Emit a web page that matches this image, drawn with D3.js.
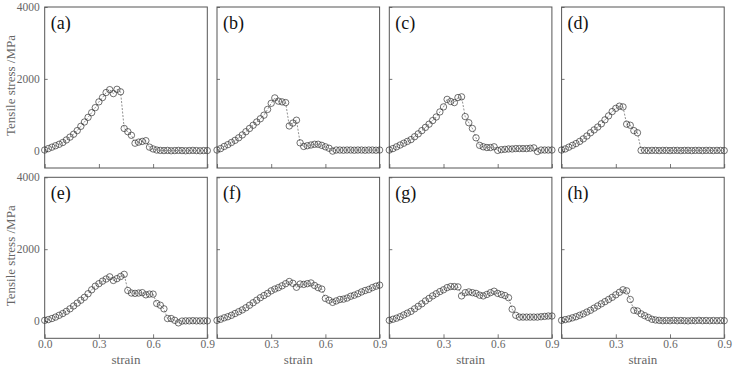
<!DOCTYPE html>
<html>
<head>
<meta charset="utf-8">
<script src="https://cdn.jsdelivr.net/npm/d3@7"></script>
<style>
  body { margin: 0; background: #fff; }
  svg { display: block; }
</style>
</head>
<body>
<svg id="chart"></svg>
<script>
// strain grid (every 0.02)
let strain = [0.00, 0.02, 0.04, 0.06, 0.08, 0.10, 0.12, 0.14, 0.16, 0.18,
  0.20, 0.22, 0.24, 0.26, 0.28, 0.30, 0.32, 0.34, 0.36, 0.38,
  0.40, 0.42, 0.44, 0.46, 0.48, 0.50, 0.52, 0.54, 0.56, 0.58,
  0.60, 0.62, 0.64, 0.66, 0.68, 0.70, 0.72, 0.74, 0.76, 0.78,
  0.80, 0.82, 0.84, 0.86, 0.88, 0.90];

// tensile stress (MPa)
let stressA = [20, 60, 100, 140, 180, 230, 300, 380, 460, 560, 680, 800, 930, 1060, 1200, 1360, 1480, 1620, 1700, 1590,
  1710, 1640, 620, 530, 430, 210, 240, 260, 280, 100, 50, 20, 10, 5, 10, 0, 5, 10, 5, 0, 5, 10, 5, 0, 5, 5];
let stressB = [20, 60, 120, 170, 230, 290, 360, 440, 530, 620, 710, 800, 890, 990, 1150, 1320, 1470, 1380, 1360, 1340,
  690, 770, 850, 220, 120, 140, 160, 180, 180, 150, 110, 70, -10, 20, 20, 15, 20, 20, 15, 20, 20, 15, 20, 20, 15, 20];
let stressC = [20, 60, 110, 160, 210, 260, 310, 390, 470, 560, 650, 740, 840, 940, 1080, 1220, 1430, 1370, 1340, 1480,
  1500, 950, 780, 620, 360, 150, 110, 90, 90, 110, 10, 30, 40, 50, 50, 60, 60, 60, 60, 70, 80, -20, 20, 20, 20, 20];
let stressD = [20, 50, 100, 150, 200, 260, 330, 410, 500, 580, 660, 750, 860, 970, 1090, 1180, 1240, 1220, 740, 710,
  560, 500, 10, 10, 5, 10, 10, 5, 10, 10, 5, 10, 10, 5, 10, 10, 5, 10, 10, 5, 10, 10, 5, 10, 10, 5];
let stressE = [20, 40, 70, 110, 160, 210, 270, 340, 420, 500, 580, 660, 760, 870, 970, 1040, 1110, 1170, 1230, 1130,
  1180, 1240, 1300, 850, 780, 770, 780, 790, 730, 750, 750, 490, 440, 340, 70, 70, 20, -50, 0, 5, 5, 10, 5, 5, 5, 5];
let stressF = [20, 50, 90, 120, 160, 210, 260, 310, 370, 440, 510, 580, 650, 710, 770, 840, 890, 930, 980, 1040,
  1100, 1050, 940, 1030, 1020, 1040, 1060, 990, 930, 890, 630, 580, 520, 560, 600, 610, 640, 690, 720, 760,
  810, 850, 880, 930, 970, 1000];
let stressG = [20, 50, 80, 120, 170, 220, 270, 340, 410, 480, 560, 630, 700, 760, 820, 870, 930, 960, 960, 950,
  700, 790, 810, 790, 770, 720, 700, 740, 790, 830, 770, 740, 710, 650, 330, 160, 110, 110, 110, 110,
  110, 110, 120, 130, 140, 140];
let stressH = [20, 40, 60, 90, 120, 160, 200, 250, 300, 360, 420, 480, 540, 600, 660, 730, 800, 870, 840, 600,
  300, 280, 200, 150, 100, 50, 30, 20, 10, 15, 10, 20, 10, 15, 10, 5, 15, 10, 20, 10, 15, 10, 15, 10, 15, 10];

let panelLabels = ['(a)', '(b)', '(c)', '(d)', '(e)', '(f)', '(g)', '(h)'];
let panelSeries = [stressA, stressB, stressC, stressD, stressE, stressF, stressG, stressH];
let xTicks = [0, 0.3, 0.6, 0.9];
let yTicks = [0, 2000, 4000];

let width = 735;
let height = 370;
let left = 44.7;
let top0 = 7;
let panelW = 162.6;
let panelH = 161;
let stepX = 172.3;
let stepY = 170.3;

let serif = 'Liberation Serif';
let frameColor = '#555';
let textColor = '#666';

let svg = d3.select('#chart')
  .attr('width', width)
  .attr('height', height)
  .attr('font-family', serif);

let xScale = d3.scaleLinear().domain([0, 0.9]).range([0, panelW]);
let yScale = d3.scaleLinear().domain([-480, 4000]).range([panelH, 0]);

let line = d3.line()
  .x((d) => xScale(d[0]))
  .y((d) => yScale(d[1]));

panelSeries.forEach((series, i) => {
  let col = i % 4;
  let row = Math.floor(i / 4);
  let g = svg.append('g')
    .attr('transform', 'translate(' + (left + col * stepX) + ',' + (top0 + row * stepY) + ')');

  let pts = strain.map((s, k) => [s, series[k]]);

  // x axis, ticks inside; labels only on bottom row
  let xAxis = d3.axisBottom(xScale)
    .tickValues(xTicks)
    .tickSize(-4)
    .tickPadding(2)
    .tickFormat((d) => (row === 1 && (d > 0 || col === 0)) ? d3.format('.1f')(d) : '');
  let xg = g.append('g')
    .attr('transform', 'translate(0,' + panelH + ')')
    .call(xAxis);

  // y axis, ticks inside; labels only on first column
  let yAxis = d3.axisLeft(yScale)
    .tickValues(yTicks)
    .tickSize(-3)
    .tickPadding(5)
    .tickFormat((d) => col === 0 ? d : '');
  let yg = g.append('g').call(yAxis);

  [xg, yg].forEach((ax) => {
    ax.attr('font-family', serif).attr('font-size', 11.5);
    ax.select('.domain').remove();
    ax.selectAll('line').attr('stroke', frameColor).attr('stroke-width', 0.8);
    ax.selectAll('text').attr('fill', textColor);
  });

  // frame
  g.append('rect')
    .attr('width', panelW)
    .attr('height', panelH)
    .attr('fill', 'none')
    .attr('stroke', frameColor)
    .attr('stroke-width', 1);

  // dashed connecting line
  g.append('path')
    .datum(pts)
    .attr('d', line)
    .attr('fill', 'none')
    .attr('stroke', '#444')
    .attr('stroke-width', 0.6)
    .attr('stroke-dasharray', '2,1.5');

  // open circle markers
  g.selectAll('circle')
    .data(pts)
    .enter()
    .append('circle')
    .attr('cx', (d) => xScale(d[0]))
    .attr('cy', (d) => yScale(d[1]))
    .attr('r', 3.2)
    .attr('fill', 'none')
    .attr('stroke', '#333')
    .attr('stroke-width', 0.7);

  // panel label
  g.append('text')
    .attr('x', 6)
    .attr('y', 22)
    .attr('fill', '#111')
    .attr('font-family', serif)
    .attr('font-size', 18)
    .text(panelLabels[i]);

  if (row === 1) {
    g.append('text')
      .attr('x', panelW / 2)
      .attr('y', panelH + 26)
      .attr('text-anchor', 'middle')
      .attr('fill', textColor)
      .attr('font-family', serif)
      .attr('font-size', 13)
      .text('strain');
  }
  if (col === 0) {
    g.append('text')
      .attr('transform', 'translate(' + (-30) + ',' + (panelH / 2 - 2) + ') rotate(-90)')
      .attr('text-anchor', 'middle')
      .attr('fill', textColor)
      .attr('font-family', serif)
      .attr('font-size', 13)
      .text('Tensile stress /MPa');
  }
});
</script>
</body>
</html>
